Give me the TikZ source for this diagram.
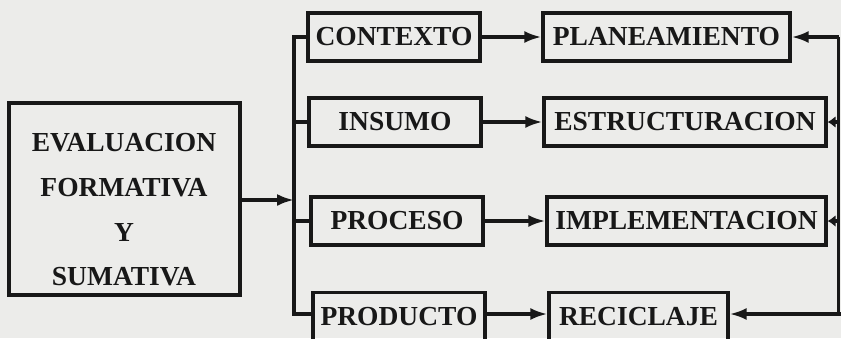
\documentclass[tikz,border=0pt]{standalone}
\usepackage{fontspec}
\setmainfont{Liberation Serif}
\usetikzlibrary{arrows.meta}
\definecolor{paper}{RGB}{236,236,234}
\definecolor{ink}{RGB}{24,24,24}
\tikzset{
  box/.style={draw=ink, line width=3.2pt, rectangle, inner sep=0pt, text=ink,
    font=\fontsize{27.5}{30}\selectfont\bfseries, minimum height=48pt},
  conn/.style={draw=ink, line width=3.2pt},
  arr/.style={conn, -{Latex[length=17pt,width=12pt]}},
  arrshort/.style={conn, -{Latex[length=8pt,width=12pt]}},
}
\begin{document}
\begin{tikzpicture}[x=1pt,y=-1pt]
\useasboundingbox[fill=paper] (0,0) rectangle (841,338);
% main box
\node[box, minimum width=231pt, minimum height=192pt] (evalbox) at (124.5,199) {};
\node[text=ink, font=\fontsize{27.5}{44.7}\selectfont\bfseries, align=center, inner sep=0pt] (evaltext) at (124,210) {EVALUACION\\FORMATIVA\\Y\\SUMATIVA};
% left column
\node[box, minimum width=172pt] (ctx) at (394,37) {CONTEXTO};
\node[box, minimum width=172pt] (ins) at (395,122) {INSUMO};
\node[box, minimum width=172pt] (pro) at (397,221) {PROCESO};
\node[box, minimum width=172pt] (prd) at (399,316.5) {PRODUCTO};
% right column
\node[box, minimum width=247pt] (pla) at (666.5,37) {PLANEAMIENTO};
\node[box, minimum width=282pt] (est) at (685,122) {ESTRUCTURACION};
\node[box, minimum width=279pt] (imp) at (686.5,221) {IMPLEMENTACION};
\node[box, minimum width=179pt] (rec) at (638.5,316.5) {RECICLAJE};
% bus
\coordinate (bustop) at (294,37);
\coordinate (busbot) at (294,314);
\coordinate (busin) at (294,200);
\draw[conn, line join=miter] (ctx.west) -- (bustop) -- (busbot) -- (prd.west |- busbot);
\draw[conn] (294,122) -- (ins.west);
\draw[conn] (294,221) -- (pro.west);
\draw[arr] (evalbox.east |- busin) -- (busin);
% forward arrows
\draw[arr] (ctx.east) -- (pla.west);
\draw[arr] (ins.east) -- (est.west);
\draw[arr] (pro.east) -- (imp.west);
\draw[arr] (prd.east |- busbot) -- (rec.west |- busbot);
% feedback
\coordinate (fbtop) at (838.5,37);
\coordinate (fbbot) at (838.5,314);
\coordinate (fbedge) at (841,314);
\draw[conn, line join=miter] (fbtop) -- (fbbot);
\draw[arr] (fbtop) -- (pla.east);
\draw[arrshort] (838.5,122) -- (est.east);
\draw[arrshort] (838.5,221) -- (imp.east);
\draw[arr] (fbedge) -- (rec.east |- fbedge);
\end{tikzpicture}
\end{document}
